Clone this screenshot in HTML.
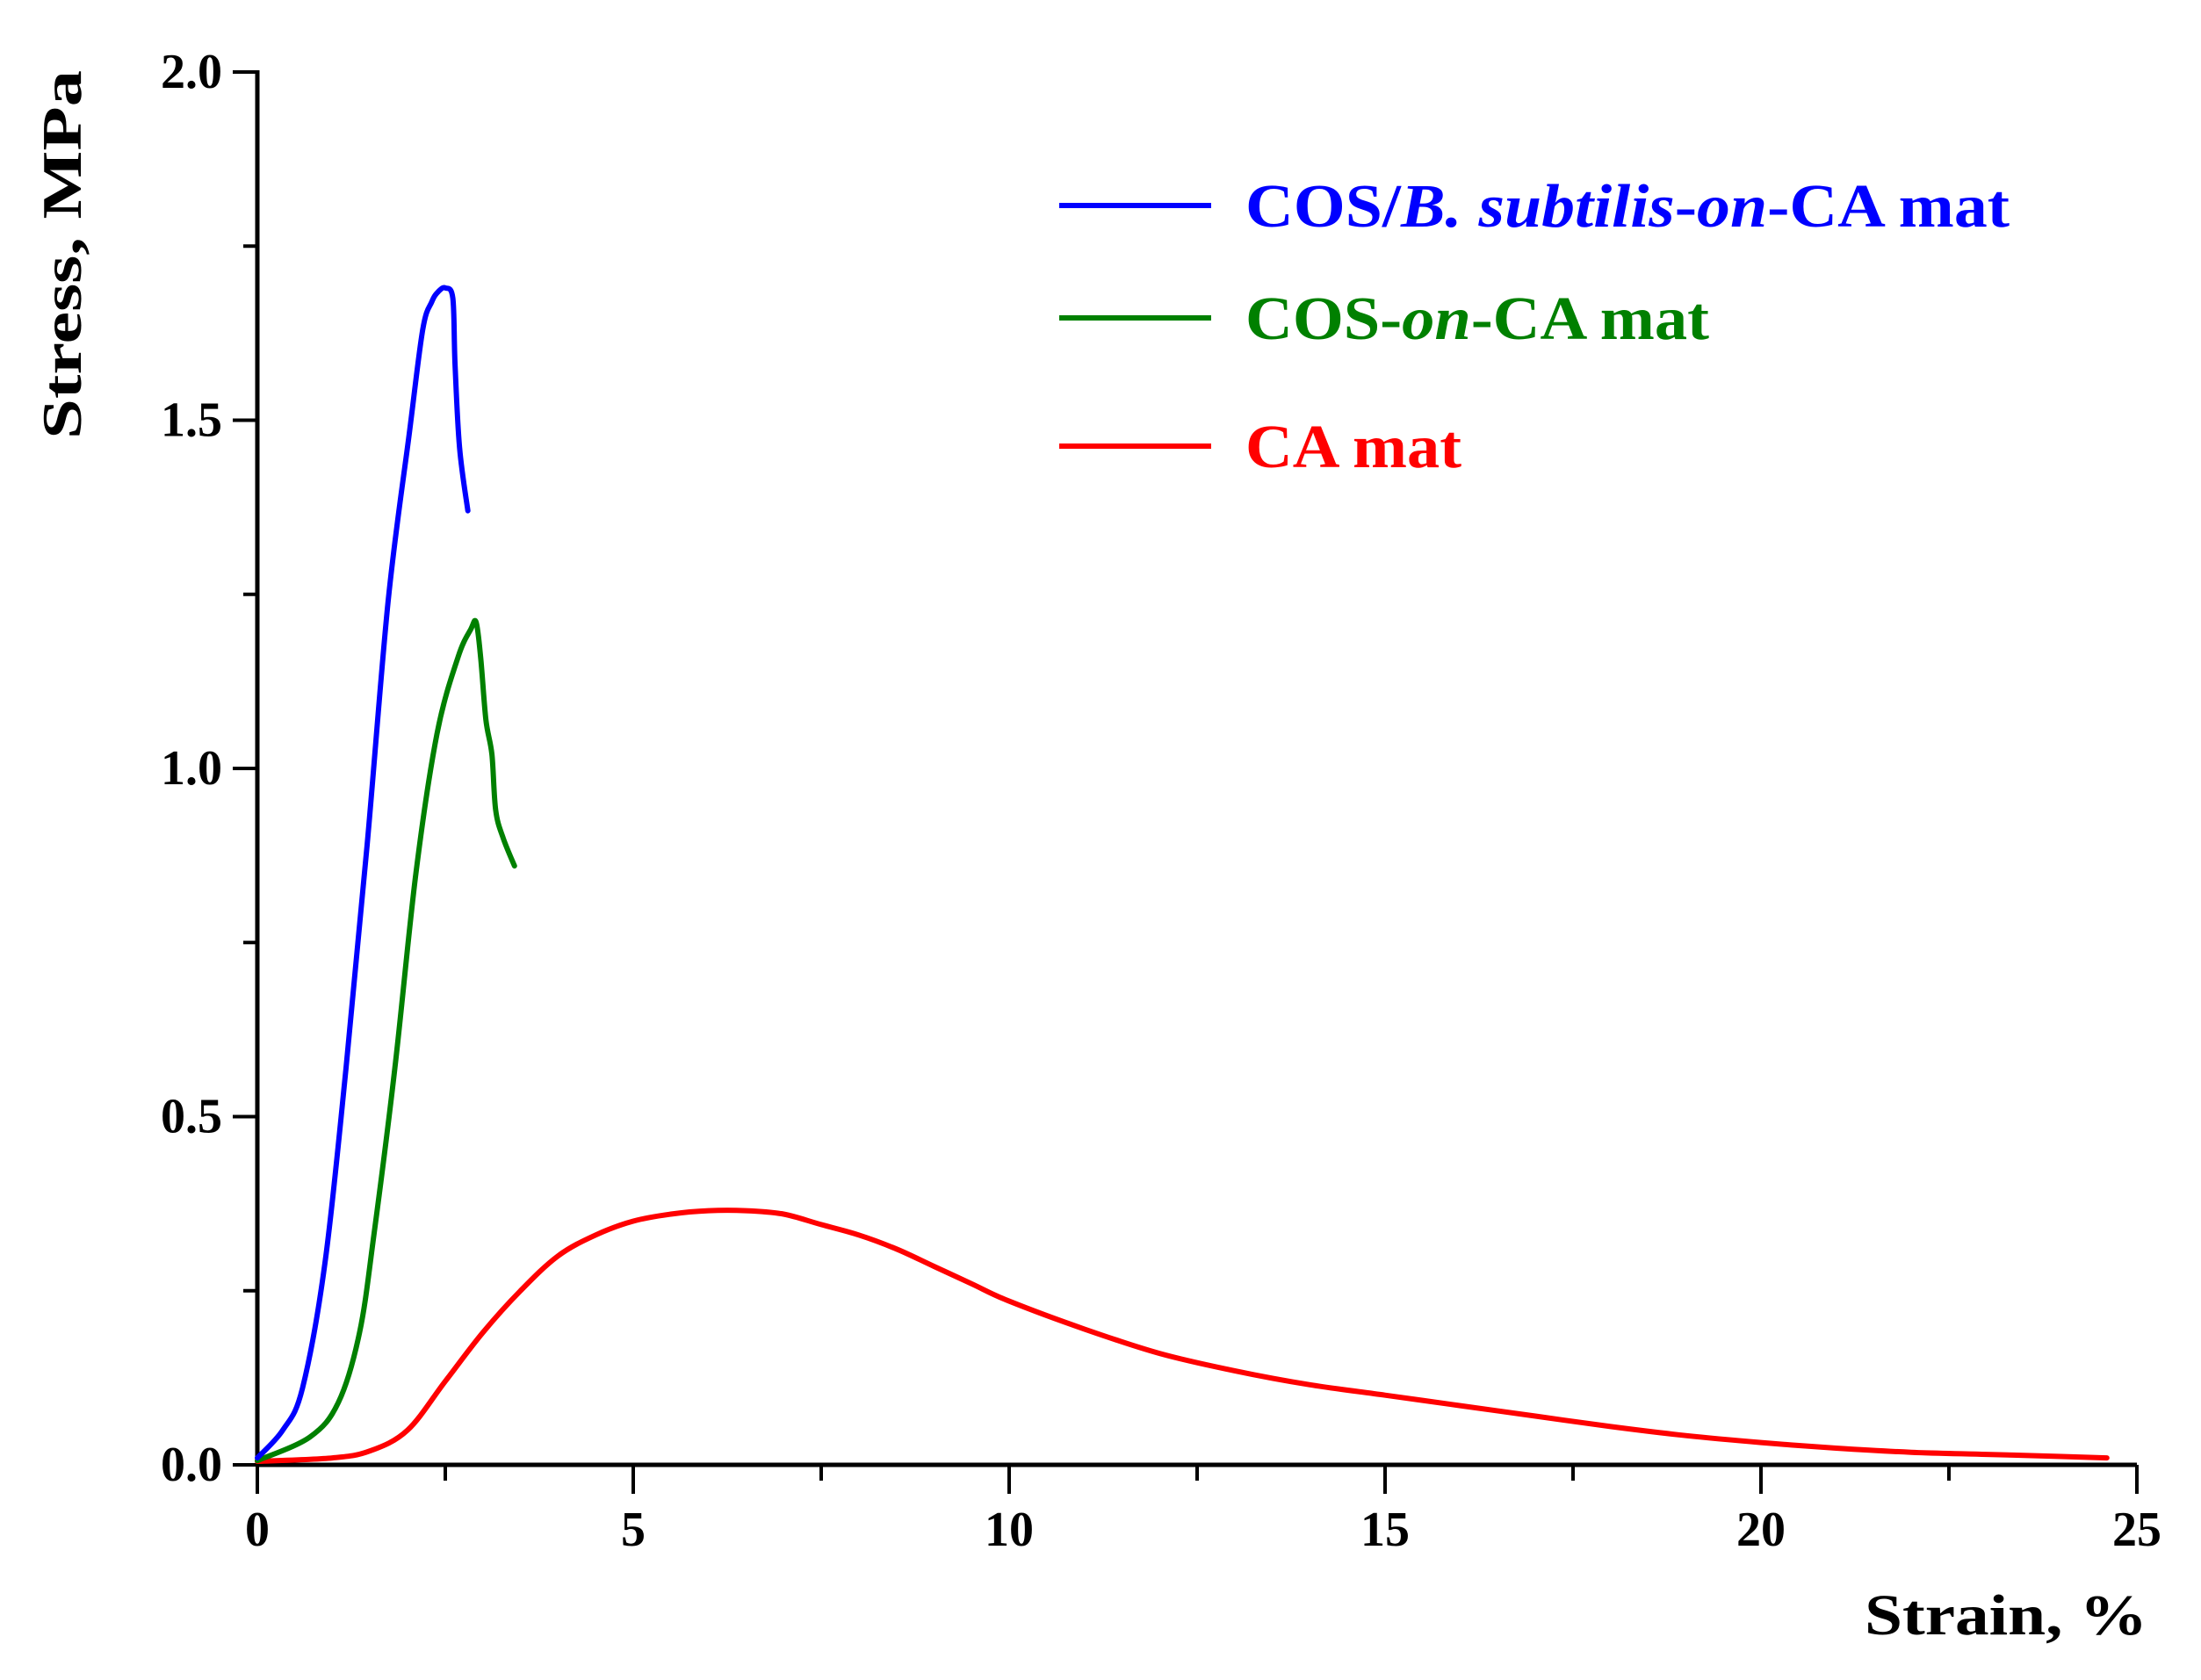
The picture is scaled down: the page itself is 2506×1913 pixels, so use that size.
<!DOCTYPE html>
<html><head><meta charset="utf-8"><style>
html,body{margin:0;padding:0;background:#fff;}
svg{display:block;font-family:"Liberation Serif",serif;}
</style></head><body>
<svg id="chart" width="2506" height="1913" viewBox="0 0 2506 1913" xmlns="http://www.w3.org/2000/svg">
<g id="axes"></g>
<g id="series"></g>
<g id="legend"></g>
<text transform="translate(92,290) rotate(-90)" text-anchor="middle" font-size="64" font-weight="bold" textLength="420" lengthAdjust="spacingAndGlyphs">Stress, MPa</text>
<text x="2445" y="1861" text-anchor="end" font-size="66" font-weight="bold" textLength="322" lengthAdjust="spacingAndGlyphs">Strain, %</text>
</svg>
<script>
const xTicks = [0, 5, 10, 15, 20, 25];
const xMinorTicks = [2.5, 7.5, 12.5, 17.5, 22.5];
const yTicks = [0.0, 0.5, 1.0, 1.5, 2.0];
const yMinorTicks = [0.25, 0.75, 1.25, 1.75];
const blueX = [0, 0.34, 0.6, 0.9, 1.18, 1.46, 1.74, 2.02, 2.2, 2.32, 2.41, 2.5, 2.6, 2.63, 2.69, 2.8];
const blueY = [0.01, 0.05, 0.11, 0.29, 0.57, 0.89, 1.24, 1.48, 1.63, 1.67, 1.685, 1.69, 1.675, 1.58, 1.46, 1.37];
const greenX = [0, 0.7, 1.08, 1.36, 1.55, 1.83, 2.11, 2.39, 2.67, 2.84, 2.91, 2.97, 3.04, 3.12, 3.17, 3.27, 3.42];
const greenY = [0.006, 0.04, 0.09, 0.19, 0.33, 0.57, 0.85, 1.05, 1.16, 1.2, 1.21, 1.16, 1.07, 1.02, 0.94, 0.9, 0.86];
const redX = [0, 1, 1.5, 2, 2.5, 3, 3.5, 4, 4.5, 5, 5.5, 6, 6.5, 7, 7.5, 8, 8.5, 9, 9.5, 10, 11, 12, 13, 14, 15, 16, 17, 18, 19, 20, 21, 22, 23, 24, 24.6];
const redY = [0.005, 0.01, 0.02, 0.05, 0.12, 0.19, 0.25, 0.3, 0.33, 0.35, 0.36, 0.365, 0.365, 0.36, 0.345, 0.33, 0.31, 0.285, 0.26, 0.235, 0.195, 0.16, 0.135, 0.115, 0.1, 0.085, 0.07, 0.055, 0.042, 0.032, 0.024, 0.018, 0.015, 0.012, 0.01];
const seriesNames = ["COS/B. subtilis-on-CA mat", "COS-on-CA mat", "CA mat"];

const NS = "http://www.w3.org/2000/svg";
const X0 = 293, X1 = 2433, Y0 = 1668, Y1 = 82;
const sx = v => X0 + (v - 0) / 25 * (X1 - X0);
const sy = v => Y0 - (v - 0) / 2 * (Y0 - Y1);
function mk(tag, attrs, parent) {
  const e = document.createElementNS(NS, tag);
  for (const k in attrs) e.setAttribute(k, attrs[k]);
  parent.appendChild(e);
  return e;
}
const axes = document.getElementById('axes');
const series = document.getElementById('series');
const legend = document.getElementById('legend');

let el = mk('line', {x1: X0, y1: Y0, x2: X1, y2: Y0, stroke: '#000', 'stroke-width': 5}, axes);


el = mk('line', {x1: X0, y1: Y0 + 2, x2: X0, y2: Y1 - 2, stroke: '#000', 'stroke-width': 5}, axes);



xTicks.forEach(v => {
  const t = mk('line', {x1: sx(v), y1: Y0, x2: sx(v), y2: Y0 + 33, stroke: '#000', 'stroke-width': 4}, axes);
  
  
  const l = mk('text', {x: sx(v), y: Y0 + 92, 'text-anchor': 'middle', 'font-size': 56, 'font-weight': 'bold'}, axes);
  l.textContent = String(v);
  
  
});
xMinorTicks.forEach(v => {
  const t = mk('line', {x1: sx(v), y1: Y0, x2: sx(v), y2: Y0 + 18, stroke: '#000', 'stroke-width': 4}, axes);
  
  
});
yTicks.forEach(v => {
  const t = mk('line', {x1: X0 - 28, y1: sy(v), x2: X0, y2: sy(v), stroke: '#000', 'stroke-width': 4}, axes);
  
  
  const l = mk('text', {x: X0 - 40, y: sy(v) + 18, 'text-anchor': 'end', 'font-size': 56, 'font-weight': 'bold'}, axes);
  l.textContent = v.toFixed(1);
  
  
});
yMinorTicks.forEach(v => {
  const t = mk('line', {x1: X0 - 16, y1: sy(v), x2: X0, y2: sy(v), stroke: '#000', 'stroke-width': 4}, axes);
  
  
});

function drawSeries(xs, ys, color, name) {
  const P = xs.map((x, i) => [sx(x), sy(ys[i])]);
  let d = 'M' + P[0][0].toFixed(1) + ',' + P[0][1].toFixed(1);
  for (let i = 0; i < P.length - 1; i++) {
    const p0 = P[Math.max(0, i - 1)], p1 = P[i], p2 = P[i + 1], p3 = P[Math.min(P.length - 1, i + 2)];
    const c1 = [p1[0] + (p2[0] - p0[0]) / 6, p1[1] + (p2[1] - p0[1]) / 6];
    const c2 = [p2[0] - (p3[0] - p1[0]) / 6, p2[1] - (p3[1] - p1[1]) / 6];
    d += ' C' + c1[0].toFixed(1) + ',' + c1[1].toFixed(1) + ' ' + c2[0].toFixed(1) + ',' + c2[1].toFixed(1) + ' ' + p2[0].toFixed(1) + ',' + p2[1].toFixed(1);
  }
  const p = mk('path', {d: d, fill: 'none', stroke: color, 'stroke-width': 6, 'stroke-linejoin': 'round', 'stroke-linecap': 'round'}, series);
  
  
}
drawSeries(redX, redY, '#ff0000', 'ca-mat-line');
drawSeries(greenX, greenY, '#008000', 'cos-on-ca-line');
drawSeries(blueX, blueY, '#0000ff', 'cos-bsubtilis-on-ca-line');

const legColors = ['#0000ff', '#008000', '#ff0000'];
const legY = [234, 362, 508];
const legLens = [870, 528, 246];
const legNames = ['legend-entry-cos-bsubtilis', 'legend-entry-cos-on-ca', 'legend-entry-ca-mat'];
legColors.forEach((c, i) => {
  const g = mk('g', {}, legend);
  
  
  mk('line', {x1: 1206, y1: legY[i], x2: 1379, y2: legY[i], stroke: c, 'stroke-width': 6}, g);
  const t = mk('text', {x: 1418, y: legY[i] + 24, fill: c, 'font-size': 70, 'font-weight': 'bold', textLength: legLens[i], lengthAdjust: 'spacingAndGlyphs'}, g);
  if (i === 0) {
    t.innerHTML = 'COS/<tspan font-style="italic">B. subtilis</tspan>-<tspan font-style="italic">on</tspan>-CA mat';
  } else if (i === 1) {
    t.innerHTML = 'COS-<tspan font-style="italic">on</tspan>-CA mat';
  } else {
    t.textContent = seriesNames[2];
  }
});
</script>
</body></html>
